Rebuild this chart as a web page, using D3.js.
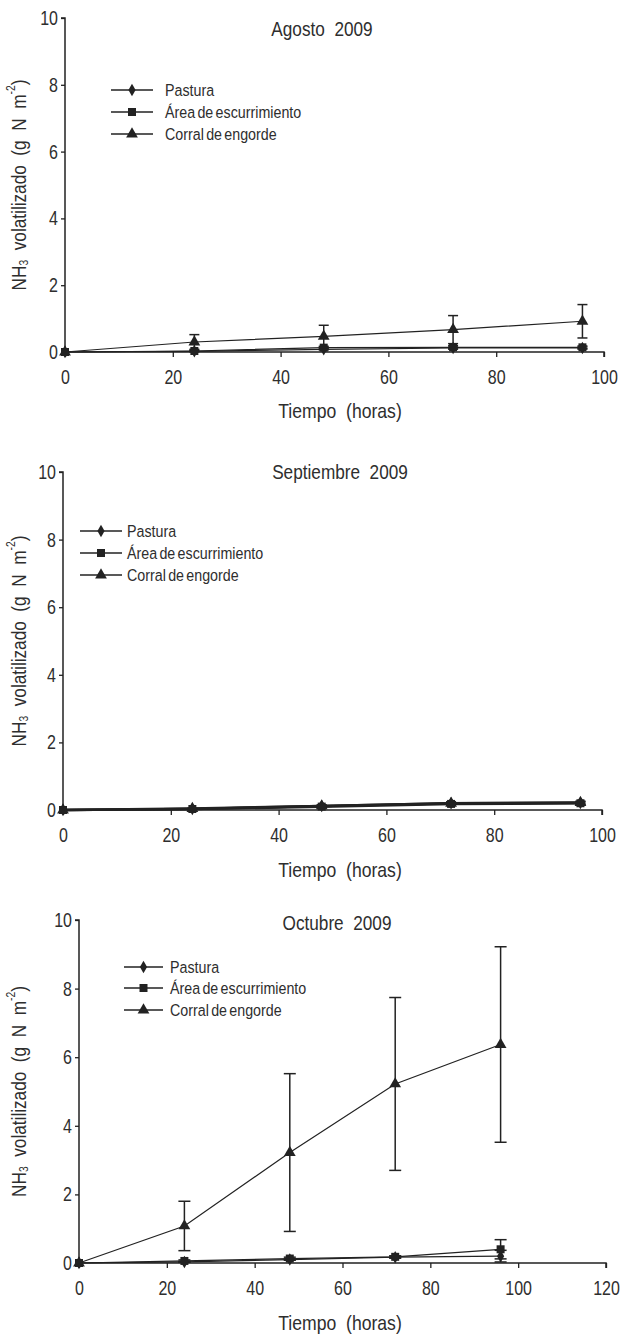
<!DOCTYPE html>
<html>
<head>
<meta charset="utf-8">
<script src="https://cdn.jsdelivr.net/npm/d3@7"></script>
<style>
  body { margin: 0; background: #fff; }
  svg text { font-family: "Liberation Sans", Arial, sans-serif; fill: #2e2e2e; white-space: pre; }
</style>
</head>
<body>
<div id="chart"></div>
<script>
const width = 620
const height = 1336

// hours of measurement
const hours = [0, 24, 48, 72, 96]
const seriesNames = ['Pastura', 'Área de escurrimiento', 'Corral de engorde']

// Agosto 2009
const agoPastura = [0, 0.02, 0.08, 0.12, 0.12]
const agoPasturaErr = [0, 0.01, 0.02, 0.03, 0.03]
const agoArea = [0, 0.03, 0.13, 0.14, 0.14]
const agoAreaErr = [0, 0.02, 0.04, 0.05, 0.04]
const agoCorral = [0, 0.3, 0.47, 0.67, 0.92]
const agoCorralErr = [0, 0.22, 0.33, 0.42, 0.5]

// Septiembre 2009
const sepPastura = [0, 0.03, 0.12, 0.2, 0.21]
const sepPasturaErr = [0, 0.01, 0.03, 0.04, 0.04]
const sepArea = [0, 0.03, 0.1, 0.18, 0.2]
const sepAreaErr = [0, 0.01, 0.02, 0.03, 0.03]
const sepCorral = [0, 0.04, 0.12, 0.2, 0.22]
const sepCorralErr = [0, 0.01, 0.03, 0.04, 0.04]

// Octubre 2009
const octPastura = [0, 0.03, 0.1, 0.17, 0.2]
const octPasturaErr = [0, 0.01, 0.02, 0.03, 0.17]
const octArea = [0, 0.06, 0.13, 0.18, 0.4]
const octAreaErr = [0, 0.03, 0.04, 0.03, 0.28]
const octCorral = [0, 1.08, 3.22, 5.22, 6.37]
const octCorralErr = [0, 0.72, 2.3, 2.52, 2.85]

const yTicks = [0, 2, 4, 6, 8, 10]

const panels = [
  {
    title: 'Agosto  2009', xMax: 100, xTicks: [0, 20, 40, 60, 80, 100],
    x0: 65, x1: 604, y0: 352, y1: 18, titleX: 322, titleY: 29, labelY: 411, capW: 10,
    legend: {lx0: 111, lx1: 153, tx: 165, rows: [90, 112, 134]},
    series: [[agoPastura, agoPasturaErr], [agoArea, agoAreaErr], [agoCorral, agoCorralErr]],
    lineW: 1.2
  },
  {
    title: 'Septiembre  2009', xMax: 100, xTicks: [0, 20, 40, 60, 80, 100],
    x0: 63, x1: 602, y0: 810, y1: 472, titleX: 340, titleY: 472, labelY: 870, capW: 10,
    legend: {lx0: 80, lx1: 122, tx: 127, rows: [531, 553, 575]},
    series: [[sepPastura, sepPasturaErr], [sepArea, sepAreaErr], [sepCorral, sepCorralErr]],
    lineW: 2.6
  },
  {
    title: 'Octubre  2009', xMax: 120, xTicks: [0, 20, 40, 60, 80, 100, 120],
    x0: 79, x1: 606, y0: 1263, y1: 920, titleX: 337, titleY: 923, labelY: 1323, capW: 12,
    legend: {lx0: 124, lx1: 163, tx: 170, rows: [967, 988, 1010]},
    series: [[octPastura, octPasturaErr], [octArea, octAreaErr], [octCorral, octCorralErr]],
    lineW: 1.2
  }
]

const ink = '#222'

const svg = d3.select('#chart')
  .append('svg')
  .attr('width', width)
  .attr('height', height)

const symbols = [
  d3.symbol().type(d3.symbolDiamond).size(45),
  d3.symbol().type(d3.symbolSquare).size(64),
  d3.symbol().type(d3.symbolTriangle).size(60)
]

// the original lettering is a condensed face; squeeze each text horizontally
function narrow (sel, sx) {
  sel.each(function () {
    const t = d3.select(this)
    const tx = +t.attr('x') || 0
    const ty = +t.attr('y') || 0
    t.attr('x', 0).attr('y', 0)
      .attr('transform', `translate(${tx},${ty}) scale(${sx},1)`)
  })
}

panels.forEach(drawPanel)

function drawPanel (p) {
  const x = d3.scaleLinear().domain([0, p.xMax]).range([p.x0, p.x1])
  const y = d3.scaleLinear().domain([0, 10]).range([p.y0, p.y1])
  const g = svg.append('g')

  // axes
  const yAxis = g.append('g')
    .attr('transform', `translate(${p.x0},0)`)
    .call(d3.axisLeft(y).tickValues(yTicks).tickSize(4).tickPadding(3).tickFormat(d3.format('d')))
  const xAxis = g.append('g')
    .attr('transform', `translate(0,${p.y0})`)
    .call(d3.axisBottom(x).tickValues(p.xTicks).tickSize(5).tickPadding(13).tickFormat(d3.format('d')))

  ;[xAxis, yAxis].forEach(a => {
    a.select('.domain').attr('stroke', ink).attr('stroke-width', 1.5)
    a.selectAll('.tick line').attr('stroke', ink).attr('stroke-width', 1.3)
    a.selectAll('.tick text').attr('font-size', 20).attr('fill', '#2e2e2e')
      .attr('font-family', '"Liberation Sans", Arial, sans-serif')
      .call(narrow, 0.8)
  })
  yAxis.select('.domain').attr('d', `M-4,${p.y1}H0V${p.y0}`)
  xAxis.select('.domain').attr('d', `M${p.x0},0H${p.x1}V5`)

  // titles
  g.append('text')
    .attr('x', p.titleX).attr('y', p.titleY)
    .attr('text-anchor', 'middle').attr('dominant-baseline', 'central')
    .attr('font-size', 20)
    .text(p.title)
    .call(narrow, 0.86)

  g.append('text')
    .attr('x', 340).attr('y', p.labelY)
    .attr('text-anchor', 'middle').attr('dominant-baseline', 'central')
    .attr('font-size', 20)
    .text('Tiempo  (horas)')
    .call(narrow, 0.88)

  const yl = g.append('text')
    .attr('transform', `translate(18,${(p.y0 + p.y1) / 2}) rotate(-90) scale(0.86,1)`)
    .attr('text-anchor', 'middle').attr('dominant-baseline', 'central')
    .attr('font-size', 20)
  yl.append('tspan').text('NH')
  yl.append('tspan').attr('font-size', 12).attr('dy', 6).text('3')
  yl.append('tspan').attr('dy', -6).text('  volatilizado  (g  N  m')
  yl.append('tspan').attr('font-size', 12).attr('dy', -7).text('-2')
  yl.append('tspan').attr('dy', 7).text(')')

  const line = d3.line().x((d, i) => x(hours[i])).y(d => y(d))

  // series: lines, error bars, markers (corral last so it sits on top)
  p.series.forEach(([vals, errs], si) => {
    const sg = g.append('g')
    sg.append('path')
      .datum(vals)
      .attr('fill', 'none')
      .attr('stroke', ink)
      .attr('stroke-width', p.lineW)
      .attr('d', line)

    const eb = sg.selectAll('g.err')
      .data(vals.map((v, i) => ({v, e: errs[i], h: hours[i]})).filter(d => d.e > 0))
      .enter().append('g').attr('class', 'err')
    eb.append('line')
      .attr('x1', d => x(d.h)).attr('x2', d => x(d.h))
      .attr('y1', d => y(d.v + d.e)).attr('y2', d => y(Math.max(0, d.v - d.e)))
      .attr('stroke', ink).attr('stroke-width', 1.5)
    eb.append('line')
      .attr('x1', d => x(d.h) - p.capW / 2).attr('x2', d => x(d.h) + p.capW / 2)
      .attr('y1', d => y(d.v + d.e)).attr('y2', d => y(d.v + d.e))
      .attr('stroke', ink).attr('stroke-width', 1.5)
    eb.append('line')
      .attr('x1', d => x(d.h) - p.capW / 2).attr('x2', d => x(d.h) + p.capW / 2)
      .attr('y1', d => y(Math.max(0, d.v - d.e))).attr('y2', d => y(Math.max(0, d.v - d.e)))
      .attr('stroke', ink).attr('stroke-width', 1.5)

    sg.selectAll('path.mark')
      .data(vals)
      .enter().append('path')
      .attr('class', 'mark')
      .attr('transform', (d, i) => `translate(${x(hours[i])},${y(d)})`)
      .attr('d', symbols[si])
      .attr('fill', ink)
  })

  // legend
  const lg = g.append('g')
  seriesNames.forEach((name, si) => {
    const ry = p.legend.rows[si]
    lg.append('line')
      .attr('x1', p.legend.lx0).attr('x2', p.legend.lx1)
      .attr('y1', ry).attr('y2', ry)
      .attr('stroke', ink).attr('stroke-width', 1.5)
    lg.append('path')
      .attr('transform', `translate(${(p.legend.lx0 + p.legend.lx1) / 2},${ry})`)
      .attr('d', symbols[si])
      .attr('fill', ink)
    lg.append('text')
      .attr('x', p.legend.tx).attr('y', ry)
      .attr('dominant-baseline', 'central')
      .attr('font-size', 17)
      .attr('word-spacing', -2)
      .style('white-space', 'normal')
      .text(name)
      .call(narrow, 0.84)
  })
}
</script>
</body>
</html>
